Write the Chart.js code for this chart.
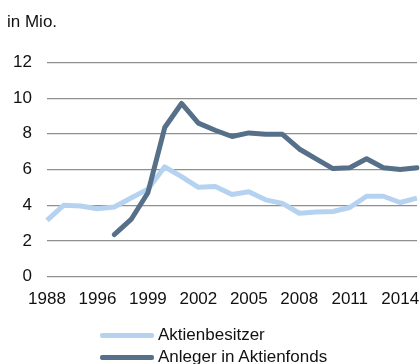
<!DOCTYPE html>
<html lang="de">
<head>
<meta charset="utf-8">
<title>Aktienbesitzer und Anleger in Aktienfonds</title>
<script src="https://cdn.jsdelivr.net/npm/chart.js@4/dist/chart.umd.min.js"></script>
<style>
    html, body { margin: 0; padding: 0; background: #fff; }
    body { width: 420px; height: 364px; overflow: hidden; font-family: "Liberation Sans", Arial, sans-serif; }
    .wrap { position: relative; width: 420px; height: 364px; }
    canvas { display: block; }
    .legend { position: absolute; left: 100px; top: 324px; font-size: 17px; color: #111; }
    .legend-item { display: flex; align-items: center; height: 22px; white-space: nowrap; }
    .legend-line { width: 54px; height: 5px; border-radius: 2px; margin-right: 4px; }
</style>
</head>
<body>
<div class="wrap">
    <canvas id="shareChart" width="420" height="364"></canvas>
    <div class="legend" id="chartLegend"></div>
</div>
<script>
// Jahre (Kategorien)
const years = ['1988', '1992', '1995', '1996', '1997', '1998', '1999', '2000', '2001', '2002', '2003',
    '2004', '2005', '2006', '2007', '2008', '2009', '2010', '2011', '2012', '2013', '2014', '2015'];

// Werte in Mio.
const aktienbesitzer = [3.15, 4.0, 3.95, 3.8, 3.9, 4.4, 4.9, 6.15, 5.6, 5.0, 5.05,
    4.6, 4.75, 4.3, 4.1, 3.55, 3.62, 3.65, 3.87, 4.5, 4.5, 4.15, 4.4];
const aktienfonds = [null, null, null, null, 2.35, 3.2, 4.7, 8.35, 9.7, 8.6, 8.2,
    7.85, 8.05, 7.98, 7.97, 7.15, 6.6, 6.05, 6.1, 6.6, 6.1, 6.0, 6.1];

const yTicks = [0, 2, 4, 6, 8, 10, 12];

const LIGHT = '#b5d3f0';
const DARK = '#56708a';

document.addEventListener('DOMContentLoaded', function() {
    Chart.defaults.font.family = '"Liberation Sans", Arial, sans-serif';
    Chart.defaults.font.size = 17;
    Chart.defaults.color = '#111';

    const ctx = document.getElementById('shareChart');
    const chart = new Chart(ctx, {
        type: 'line',
        data: {
            labels: years,
            datasets: [{
                label: 'Aktienbesitzer',
                data: aktienbesitzer,
                borderColor: LIGHT,
                backgroundColor: LIGHT,
                borderWidth: 5,
                pointRadius: 0,
                tension: 0,
                borderJoinStyle: 'round',
                order: 1
            }, {
                label: 'Anleger in Aktienfonds',
                data: aktienfonds,
                borderColor: DARK,
                backgroundColor: DARK,
                borderWidth: 5,
                pointRadius: 0,
                tension: 0,
                borderJoinStyle: 'round',
                borderCapStyle: 'round',
                order: 0
            }]
        },
        options: {
            responsive: false,
            animation: false,
            layout: { padding: { left: 7, right: 0, top: 0, bottom: 41 } },
            plugins: {
                legend: { display: false },
                tooltip: { enabled: false },
                title: {
                    display: true,
                    text: 'in Mio.',
                    align: 'start',
                    font: { size: 17, weight: 'normal' },
                    padding: { top: 12, bottom: 30 }
                }
            },
            scales: {
                x: {
                    offset: false,
                    grid: { display: false, drawTicks: false },
                    border: { display: false },
                    afterFit: function(scale) {
                        // Linien bis fast an den rechten Rand
                        scale.paddingRight = 3;
                        scale.paddingLeft = 0;
                    },
                    ticks: {
                        autoSkip: false,
                        maxRotation: 0,
                        padding: 13,
                        callback: function(val, i) {
                            return i % 3 === 0 ? years[i] : '';
                        }
                    }
                },
                y: {
                    min: yTicks[0],
                    max: yTicks[yTicks.length - 1],
                    afterFit: function(scale) { scale.width = 40; },
                    afterBuildTicks: function(scale) {
                        scale.ticks = yTicks.map(v => ({ value: v }));
                    },
                    grid: { color: '#8f8f8f', lineWidth: 1.2, drawTicks: false },
                    border: { display: false },
                    ticks: { padding: 15 }
                }
            }
        }
    });

    // Legende untereinander
    const legend = document.getElementById('chartLegend');
    chart.data.datasets.forEach(function(ds) {
        const item = document.createElement('div');
        item.className = 'legend-item';
        const line = document.createElement('span');
        line.className = 'legend-line';
        line.style.background = ds.borderColor;
        const label = document.createElement('span');
        label.textContent = ds.label;
        item.appendChild(line);
        item.appendChild(label);
        legend.appendChild(item);
    });
});
</script>
</body>
</html>
